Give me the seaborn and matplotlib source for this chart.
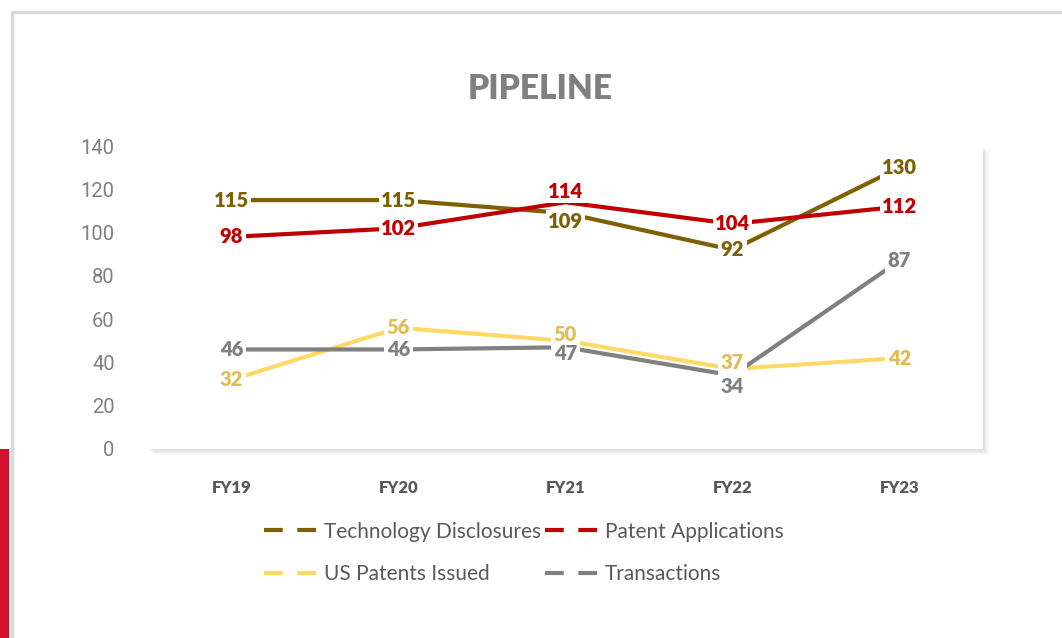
import numpy as np
import pandas as pd
import seaborn as sns
import matplotlib.pyplot as plt
from matplotlib.lines import Line2D
from matplotlib.patches import Rectangle

sns.set_theme(style="white")
plt.rcParams['font.family'] = ['Lato', 'DejaVu Sans']

years = ["FY19", "FY20", "FY21", "FY22", "FY23"]
tech_disclosures = [115, 115, 109, 92, 130]
patent_apps = [98, 102, 114, 104, 112]
us_patents = [32, 56, 50, 37, 42]
transactions = [46, 46, 47, 34, 87]

series = ["Technology Disclosures", "Patent Applications", "US Patents Issued", "Transactions"]
line_colors = ["#7F6000", "#C00000", "#FFD966", "#808080"]
label_colors = ["#7F6000", "#C00000", "#E0BC58", "#808080"]
# small vertical nudges (in data units) so crowded labels don't collide
nudges = {
    "Technology Disclosures": [0, 0, -4, 0, 0],
    "Patent Applications": [0, 0, 5, 0, 0],
    "US Patents Issued": [0, 0, 3, 3, 0],
    "Transactions": [0, 0, -3, -5, 0],
}

df = pd.DataFrame({
    "year": years * 4,
    "value": tech_disclosures + patent_apps + us_patents + transactions,
    "series": np.repeat(series, len(years)),
})
df["x"] = df.groupby("series").cumcount()

fig = plt.figure(figsize=(10.62, 6.38), dpi=100)
fig.patch.set_facecolor("white")

# outer frame (left + top only) and red accent bar
fig.add_artist(Line2D([12 / 1062, 12 / 1062, 1], [0, 1 - 12 / 638, 1 - 12 / 638],
                      transform=fig.transFigure, color="#D9D9D9", lw=2.5))
fig.add_artist(Rectangle((0, 0), 9 / 1062, 1 - 449 / 638, transform=fig.transFigure,
                         facecolor="#D0112B", edgecolor="none"))

ax = fig.add_axes([148 / 1062, 1 - 449 / 638, 835 / 1062, 303 / 638])
# soft shadow behind the plot area
for i, a in enumerate([0.05, 0.04, 0.03]):
    off = (i + 1) * 2
    fig.add_artist(Rectangle((148 / 1062 + off / 1062, 1 - 449 / 638 - off / 638),
                             835 / 1062, 303 / 638, transform=fig.transFigure,
                             facecolor="black", alpha=a, edgecolor="none", zorder=0))
ax.set_zorder(1)
ax.set_facecolor("white")

sns.lineplot(data=df, x="x", y="value", hue="series", hue_order=series,
             palette=line_colors, linewidth=3, legend=False, ax=ax, zorder=2)

vals = [tech_disclosures, patent_apps, us_patents, transactions]
for s, v, c in zip(series, vals, label_colors):
    for i, y in enumerate(v):
        ax.text(i, y + nudges[s][i], str(y), ha="center", va="center", color=c,
                fontsize=14.5, fontweight="heavy", zorder=5,
                bbox=dict(boxstyle="square,pad=0.12", facecolor="white", edgecolor="none"))

ax.set_xlim(-0.5, 4.5)
ax.set_ylim(0, 140)
ax.set_xticks(range(len(years)))
ax.set_xticklabels(years, fontweight="heavy", fontsize=12, color="#595959")
ax.set_yticks(range(0, 141, 20))
ax.tick_params(axis="y", length=0, pad=24, labelsize=14.5, labelcolor="#7F7F7F")
ax.tick_params(axis="x", length=0, pad=22)
for lab in ax.get_yticklabels():
    lab.set_fontfamily(["Roboto", "DejaVu Sans"])
for sp in ax.spines.values():
    sp.set_visible(False)
ax.grid(False)
ax.set_xlabel("")
ax.set_ylabel("")

fig.text(540 / 1062, 1 - 89 / 638, "PIPELINE", ha="center", va="center",
         fontsize=24, fontweight="heavy", color="#7F7F7F")

# legend fills column-first, so order handles to read row by row
order = [0, 2, 1, 3]
handles = [Line2D([0], [0], color=line_colors[k], lw=3, dashes=(4.5, 3.5)) for k in order]
leg = fig.legend(handles, [series[k] for k in order], loc="center",
                 bbox_to_anchor=(524 / 1062, 1 - 553 / 638),
                 ncol=2, frameon=False, fontsize=15, handlelength=2.8, handletextpad=0.1,
                 columnspacing=0.15, labelspacing=1.1)
for t in leg.get_texts():
    t.set_color("#595959")

fig.savefig("out.png", dpi=100, facecolor="white")
